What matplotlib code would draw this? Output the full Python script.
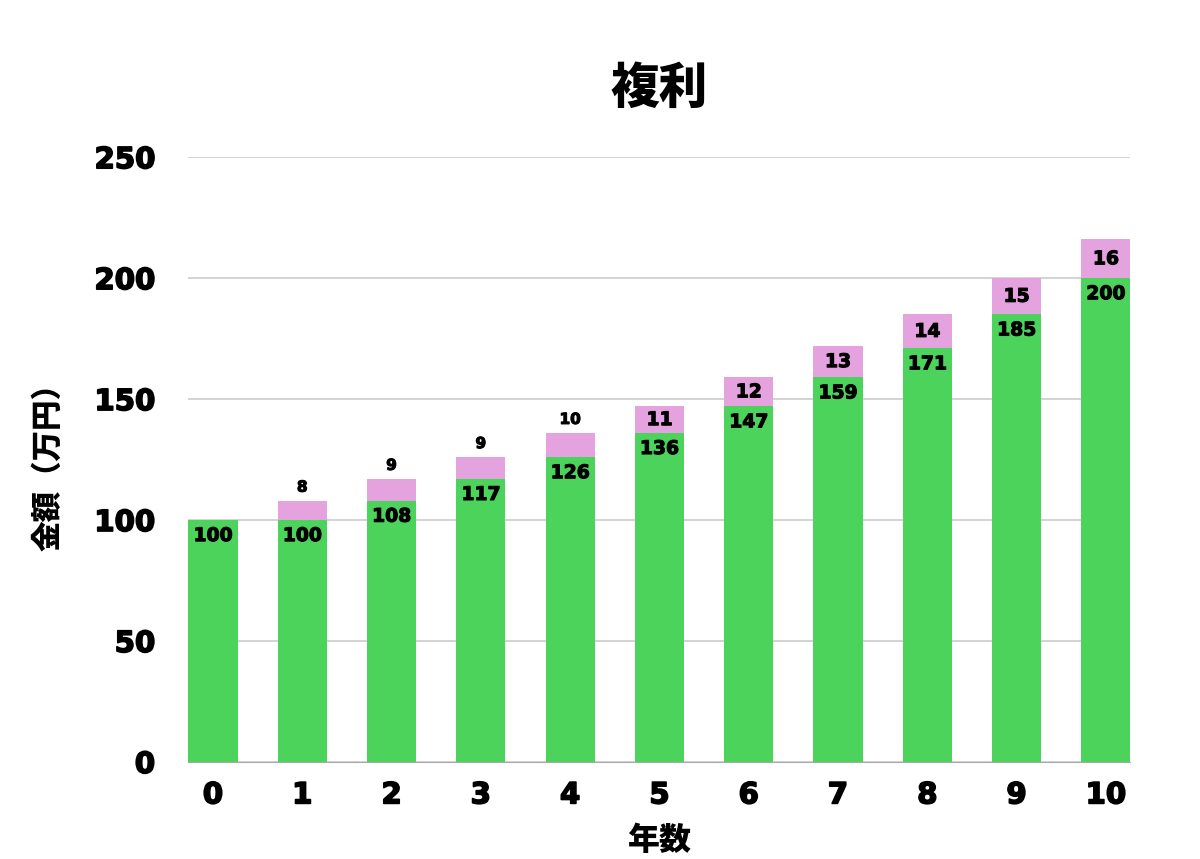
import matplotlib.pyplot as plt
import matplotlib.patheffects as pe

plt.rcParams['font.family'] = ['Noto Sans CJK JP', 'DejaVu Sans']

# データ
years = [0, 1, 2, 3, 4, 5, 6, 7, 8, 9, 10]
principal = [100, 100, 108, 117, 126, 136, 147, 159, 171, 185, 200]
interest = [0, 8, 9, 9, 10, 11, 12, 13, 14, 15, 16]

green = '#4cd35b'
pink = '#e4a2de'
num_font = ['DejaVu Sans']
heavy = [pe.withStroke(linewidth=1.2, foreground='black')]
heavy_s = [pe.withStroke(linewidth=0.8, foreground='black')]

fig = plt.figure(figsize=(12, 8.59), dpi=100)
ax = fig.add_axes([0.157, 0.113, 0.785, 0.704])

w = 0.55
ax.bar(years, principal, width=w, color=green, zorder=2)
ax.bar(years, interest, width=w, bottom=principal, color=pink, zorder=2)

# 数値ラベル
for x, p, i in zip(years, principal, interest):
    ax.text(x, p - 2.5, str(p), ha='center', va='top', fontsize=13.5,
            family=num_font, fontweight='bold', zorder=3, path_effects=heavy_s)
    if i == 0:
        continue
    if i <= 10:
        ax.text(x, p + i + 2.5, str(i), ha='center', va='bottom', fontsize=11,
                family=num_font, fontweight='bold', zorder=3, path_effects=heavy_s)
    else:
        ax.text(x, p + i / 2, str(i), ha='center', va='center', fontsize=13.5,
                family=num_font, fontweight='bold', zorder=3, path_effects=heavy_s)

ax.set_xlim(-w / 2, 10 + w / 2)
ax.set_ylim(0, 250)
ax.set_yticks([0, 50, 100, 150, 200, 250])
ax.set_xticks(years)
ax.grid(axis='y', color='#cccccc', linewidth=1.2, zorder=0)
for s in ['top', 'right', 'left']:
    ax.spines[s].set_visible(False)
ax.spines['bottom'].set_color('#aaaaaa')
ax.tick_params(length=0, labelsize=21)
for lab in ax.get_xticklabels() + ax.get_yticklabels():
    lab.set_fontweight('bold')
    lab.set_family(num_font)
    lab.set_path_effects(heavy)
ax.tick_params(axis='x', pad=14)
ax.tick_params(axis='y', pad=24)

ax.set_title('複利', fontsize=35, fontweight='black', pad=39)
ax.set_xlabel('年数', fontsize=23, fontweight='black', labelpad=10)
ax.set_ylabel('金額（万円）', fontsize=22, fontweight='black', labelpad=22)

fig.savefig('out.png', dpi=100, facecolor='white')
